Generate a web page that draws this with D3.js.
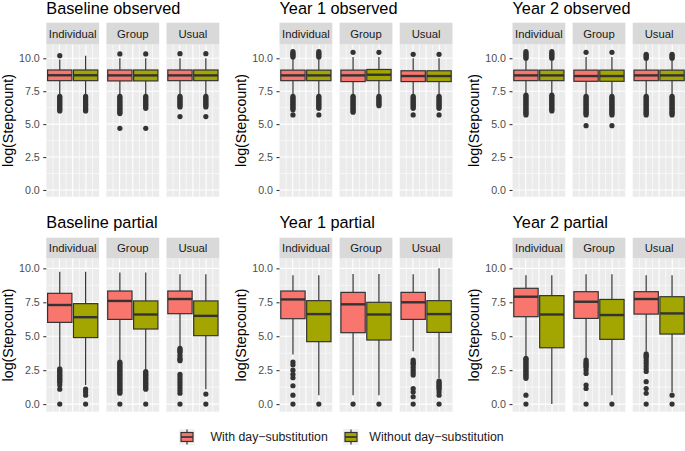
<!DOCTYPE html>
<html>
<head>
<meta charset="utf-8">
<script src="https://cdn.jsdelivr.net/npm/d3@7"></script>
<style>
  body { margin: 0; background: #fff; }
  svg { display: block; font-family: "Liberation Sans", Arial, sans-serif; }
</style>
</head>
<body>
<script>
"use strict";

// titles, facets and series
const plotTitles = ["Baseline observed", "Year 1 observed", "Year 2 observed",
                    "Baseline partial", "Year 1 partial", "Year 2 partial"];
const facetNames = ["Individual", "Group", "Usual"];
const seriesNames = ["With day\u2212substitution", "Without day\u2212substitution"];
const seriesColors = ["#F8766D", "#A3A500"];
const yTicks = [0, 2.5, 5, 7.5, 10];

// box stats per facet: [lower whisker, q1, median, q3, upper whisker, outliers]
// each facet holds [with, without]
const baselineObserved = [
  [[7.2, 8.3, 8.71, 9.11, 9.9, [10.2, 7.1, 7.0, 6.9, 6.8, 6.7, 6.6, 6.5, 6.4, 6.3, 6.2, 6.1, 6.0]],
   [7.2, 8.3, 8.71, 9.11, 10.2, [7.1, 7.0, 6.9, 6.8, 6.7, 6.6, 6.5, 6.4, 6.3, 6.2, 6.1, 6.0]]],
  [[7.2, 8.28, 8.7, 9.11, 10.0, [10.33, 7.1, 7.0, 6.9, 6.8, 6.7, 6.6, 6.5, 6.4, 6.3, 6.2, 6.1, 6.0, 5.9, 5.8, 4.68]],
   [7.2, 8.28, 8.7, 9.11, 10.0, [10.33, 7.1, 7.0, 6.9, 6.8, 6.7, 6.6, 6.5, 6.4, 6.3, 6.2, 4.68]]],
  [[7.2, 8.3, 8.7, 9.11, 10.0, [10.35, 7.1, 7.0, 6.9, 6.8, 6.7, 6.6, 6.5, 6.4, 6.3, 5.57]],
   [7.2, 8.3, 8.7, 9.11, 10.0, [10.35, 7.1, 7.0, 6.9, 6.8, 6.7, 6.6, 6.5, 6.4, 6.3, 5.57]]]
];
const year1Observed = [
  [[7.2, 8.3, 8.7, 9.1, 10.0, [10.1, 10.2, 10.3, 10.4, 10.5, 7.1, 7.0, 6.9, 6.8, 6.7, 6.6, 6.5, 6.4, 6.3, 6.2, 6.1, 5.7]],
   [7.2, 8.3, 8.7, 9.1, 10.0, [10.1, 10.2, 10.3, 10.4, 10.5, 7.1, 7.0, 6.9, 6.8, 6.7, 6.6, 6.5, 6.4, 6.3, 6.2, 5.7]]],
  [[7.2, 8.23, 8.7, 9.1, 10.1, [10.45, 7.1, 7.0, 6.9, 6.8, 6.7, 6.6, 6.5, 6.4, 6.3, 6.2, 6.1, 6.0, 5.9]],
   [7.2, 8.3, 8.75, 9.15, 10.1, [10.45, 7.1, 7.0, 6.9, 6.8, 6.7, 6.6, 6.5, 6.4]]],
  [[7.2, 8.23, 8.65, 9.05, 10.0, [10.3, 7.1, 7.0, 6.9, 6.8, 6.7, 6.6, 6.5, 6.4, 6.3, 6.2, 5.7]],
   [7.2, 8.23, 8.65, 9.05, 10.0, [10.3, 7.1, 7.0, 6.9, 6.8, 6.7, 6.6, 6.5, 6.4, 6.3, 6.2, 5.7]]]
];
const year2Observed = [
  [[7.3, 8.3, 8.7, 9.1, 9.9, [10.0, 10.1, 10.2, 10.3, 10.4, 10.5, 7.2, 7.1, 7.0, 6.9, 6.8, 6.7, 6.6, 6.5, 6.4, 6.3, 6.2, 6.1, 6.0, 5.9, 5.8, 5.7]],
   [7.3, 8.3, 8.7, 9.1, 9.9, [10.0, 10.1, 10.2, 10.3, 10.4, 10.5, 7.2, 7.1, 7.0, 6.9, 6.8, 6.7, 6.6, 6.5, 6.4, 6.3, 6.2, 6.1, 6.0]]],
  [[7.2, 8.25, 8.65, 9.1, 10.1, [10.45, 7.1, 7.0, 6.9, 6.8, 6.7, 6.6, 6.5, 6.4, 6.3, 6.2, 6.1, 6.0, 5.9, 5.8, 5.7, 4.88]],
   [7.2, 8.25, 8.65, 9.1, 10.1, [10.45, 7.1, 7.0, 6.9, 6.8, 6.7, 6.6, 6.5, 6.4, 6.3, 6.2, 6.1, 6.0, 5.9, 5.8, 5.7, 4.88]]],
  [[7.2, 8.3, 8.7, 9.1, 9.9, [10.0, 10.1, 10.2, 10.3, 7.1, 7.0, 6.9, 6.8, 6.7, 6.6, 6.5, 6.4, 6.3, 6.2, 6.1, 6.0, 5.9, 5.8, 5.7]],
   [7.2, 8.3, 8.7, 9.1, 9.9, [10.0, 10.1, 10.2, 10.3, 7.1, 7.0, 6.9, 6.8, 6.7, 6.6, 6.5, 6.4, 6.3, 6.2, 6.1, 6.0, 5.9, 5.8, 5.7]]]
];
const baselinePartial = [
  [[2.75, 6.02, 7.3, 8.16, 9.75, [2.6, 2.5, 2.4, 2.3, 2.2, 2.1, 2.0, 1.9, 1.8, 1.7, 1.6, 1.4, 1.1, 0]],
   [1.4, 4.9, 6.4, 7.4, 9.75, [1.1, 0.9, 0.66, 0]]],
  [[3.2, 6.24, 7.6, 8.33, 9.7, [3.1, 3.0, 2.9, 2.8, 2.7, 2.6, 2.5, 2.4, 2.3, 2.2, 2.1, 2.0, 1.9, 1.8, 1.7, 1.6, 1.5, 1.4, 1.3, 1.2, 1.1, 1.0, 0.9, 0.8, 0]],
   [2.5, 5.53, 6.6, 7.6, 9.7, [2.4, 2.3, 2.2, 2.1, 2.0, 1.9, 1.8, 1.7, 1.6, 1.5, 1.4, 1.3, 1.2, 1.1, 0]]],
  [[4.2, 6.66, 7.74, 8.33, 9.56, [4.1, 4.0, 3.9, 3.8, 3.6, 3.4, 3.3, 3.2, 2.2, 2.0, 1.8, 1.6, 1.4, 1.2, 1.0, 0.8, 0]],
   [1.1, 5.04, 6.5, 7.6, 9.56, [0.74, 0]]]
];
const year1Partial = [
  [[3.66, 6.29, 7.71, 8.33, 9.5, [3.1, 2.9, 2.5, 2.2, 1.94, 1.35, 0.66, 0]],
   [0.66, 4.6, 6.63, 7.62, 9.5, [0]]],
  [[0.66, 5.26, 7.35, 8.23, 9.58, [0]],
   [0.66, 4.72, 6.6, 7.5, 9.58, [0]]],
  [[3.9, 6.24, 7.5, 8.23, 9.56, [3.24, 3.1, 3.0, 2.9, 2.7, 2.5, 2.3, 2.14, 1.15, 0.9, 0.54, 0]],
   [1.9, 5.28, 6.63, 7.62, 10.0, [1.7, 1.6, 1.5, 1.4, 1.3, 1.2, 1.1, 0.9, 0.66, 0]]]
];
const year2Partial = [
  [[3.5, 6.44, 7.91, 8.53, 9.5, [3.37, 3.3, 3.2, 3.1, 3.0, 2.9, 2.8, 2.7, 2.6, 2.5, 2.4, 2.3, 2.2, 2.1, 2.0, 1.9, 0.66, 0]],
   [0, 4.15, 6.6, 7.99, 9.5, []]],
  [[3.37, 6.31, 7.54, 8.28, 9.56, [3.24, 3.1, 3.0, 2.9, 2.8, 2.7, 2.5, 2.26, 1.4, 1.15, 0]],
   [0.66, 4.77, 6.56, 7.71, 9.56, [0]]],
  [[3.9, 6.63, 7.74, 8.28, 9.5, [3.7, 3.6, 3.5, 3.4, 3.2, 3.0, 2.8, 2.6, 2.4, 1.65, 1.15, 0.8, 0]],
   [0.9, 5.16, 6.68, 7.91, 9.5, [0.66, 0]]]
];

const plotStats = [baselineObserved, year1Observed, year2Observed,
                   baselinePartial, year1Partial, year2Partial];

// layout
const W = 685, H = 451;
const colX = [0, 233.2, 466.2];
const rows = [
  {titleY: 13.5, stripTop: 22.7, panelTop: 44.3, panelBottom: 196.7, domain: [-0.51, 11.06]},
  {titleY: 227.5, stripTop: 237.7, panelTop: 258.3, panelBottom: 411.7, domain: [-0.56, 10.74]}
];
const panelLeft = 46.3, panelRight = 219.3;
const ink = "#333333";

const svg = d3.select("body").append("svg")
    .attr("width", W).attr("height", H);
svg.append("rect").attr("width", W).attr("height", H).attr("fill", "#fff");

plotStats.forEach(function(stats, p) {
  let row = rows[Math.floor(p / 3)];
  let g = svg.append("g").attr("transform", "translate(" + colX[p % 3] + ",0)");

  let y = d3.scaleLinear().domain(row.domain).range([row.panelBottom, row.panelTop]);
  let fx = d3.scaleBand().domain(facetNames).range([panelLeft, panelRight]).paddingInner(0.122);
  let bx = d3.scaleBand().domain(seriesNames).range([0, fx.bandwidth()])
      .paddingInner(0.06).paddingOuter(0.05);

  let minorTicks = d3.range(1.25, row.domain[1], 2.5);

  facetNames.forEach(function(f, fi) {
    let fg = g.append("g").attr("transform", "translate(" + fx(f) + ",0)");
    let bw = fx.bandwidth();

    // panel background and grid
    fg.append("rect")
        .attr("x", 0).attr("y", row.panelTop)
        .attr("width", bw).attr("height", row.panelBottom - row.panelTop)
        .attr("fill", "#EBEBEB");
    fg.selectAll("line.minor").data(minorTicks).enter().append("line")
        .attr("x1", 0).attr("x2", bw)
        .attr("y1", d => y(d)).attr("y2", d => y(d))
        .attr("stroke", "#fff").attr("stroke-width", 0.55);
    fg.selectAll("line.major").data(yTicks).enter().append("line")
        .attr("x1", 0).attr("x2", bw)
        .attr("y1", d => y(d)).attr("y2", d => y(d))
        .attr("stroke", "#fff").attr("stroke-width", 1.1);
    fg.selectAll("line.vgrid").data(d3.range(1, 8)).enter().append("line")
        .attr("x1", d => d * bw / 8).attr("x2", d => d * bw / 8)
        .attr("y1", row.panelTop).attr("y2", row.panelBottom)
        .attr("stroke", "#fff").attr("stroke-width", d => d % 2 ? 0.6 : 1.1);

    // strip
    fg.append("rect")
        .attr("x", 0).attr("y", row.stripTop)
        .attr("width", bw).attr("height", row.panelTop - row.stripTop)
        .attr("fill", "#D9D9D9");
    fg.append("text")
        .attr("x", bw / 2).attr("y", (row.stripTop + row.panelTop) / 2)
        .attr("dy", "0.36em")
        .attr("text-anchor", "middle")
        .attr("fill", "#1A1A1A").style("font-size", "11.3px")
        .text(f);

    // boxes
    stats[fi].forEach(function(s, si) {
      let x0 = bx(seriesNames[si]), w = bx.bandwidth(), cx = x0 + w / 2;
      let bg = fg.append("g");
      bg.append("line").attr("x1", cx).attr("x2", cx)
          .attr("y1", y(s[0])).attr("y2", y(s[1]))
          .attr("stroke", ink).attr("stroke-width", 1.2);
      bg.append("line").attr("x1", cx).attr("x2", cx)
          .attr("y1", y(s[3])).attr("y2", y(s[4]))
          .attr("stroke", ink).attr("stroke-width", 1.2);
      bg.append("rect")
          .attr("x", x0).attr("y", y(s[3]))
          .attr("width", w).attr("height", y(s[1]) - y(s[3]))
          .attr("fill", seriesColors[si]).attr("stroke", ink).attr("stroke-width", 1.2);
      bg.append("line").attr("x1", x0).attr("x2", x0 + w)
          .attr("y1", y(s[2])).attr("y2", y(s[2]))
          .attr("stroke", ink).attr("stroke-width", 2.4);
      bg.selectAll("circle").data(s[5]).enter().append("circle")
          .attr("cx", cx).attr("cy", d => y(d)).attr("r", 2.6)
          .attr("fill", ink);
    });
  });

  // y axis
  let ax = g.append("g").attr("transform", "translate(" + panelLeft + ",0)")
      .call(d3.axisLeft(y).tickValues(yTicks).tickFormat(d3.format(".1f"))
              .tickSize(3).tickPadding(3.5));
  ax.select(".domain").remove();
  ax.selectAll(".tick line").attr("stroke", ink).attr("stroke-width", 1.1);
  ax.selectAll(".tick text").attr("fill", "#4D4D4D")
      .style("font-size", "10.7px").style("font-family", "Liberation Sans, Arial, sans-serif");

  // y label
  g.append("text")
      .attr("transform", "translate(12.5," + ((row.panelTop + row.panelBottom) / 2) + ") rotate(-90)")
      .attr("text-anchor", "middle")
      .attr("fill", "#000").style("font-size", "14.3px")
      .text("log(Stepcount)");

  // title
  g.append("text")
      .attr("x", panelLeft).attr("y", row.titleY)
      .attr("fill", "#000").style("font-size", "16.3px")
      .text(plotTitles[p]);
});

// legend
const legendKeys = [{x: 179, tx: 210.5}, {x: 343, tx: 369.3}];
const legend = svg.append("g").selectAll("g").data(seriesNames).enter().append("g")
    .attr("transform", (d, i) => "translate(" + legendKeys[i].x + ",429)");
legend.append("rect").attr("width", 16).attr("height", 16).attr("fill", "#F2F2F2");
legend.append("line").attr("x1", 8).attr("x2", 8).attr("y1", 0.5).attr("y2", 15.5)
    .attr("stroke", ink).attr("stroke-width", 1.2);
legend.append("rect").attr("x", 2).attr("y", 3.5).attr("width", 12).attr("height", 9)
    .attr("fill", (d, i) => seriesColors[i]).attr("stroke", ink).attr("stroke-width", 1.2);
legend.append("line").attr("x1", 2).attr("x2", 14).attr("y1", 8).attr("y2", 8)
    .attr("stroke", ink).attr("stroke-width", 1.7);
legend.append("text")
    .attr("x", (d, i) => legendKeys[i].tx - legendKeys[i].x).attr("y", 8).attr("dy", "0.36em")
    .attr("fill", "#1A1A1A").style("font-size", "12.3px")
    .text(d => d);
</script>
</body>
</html>
